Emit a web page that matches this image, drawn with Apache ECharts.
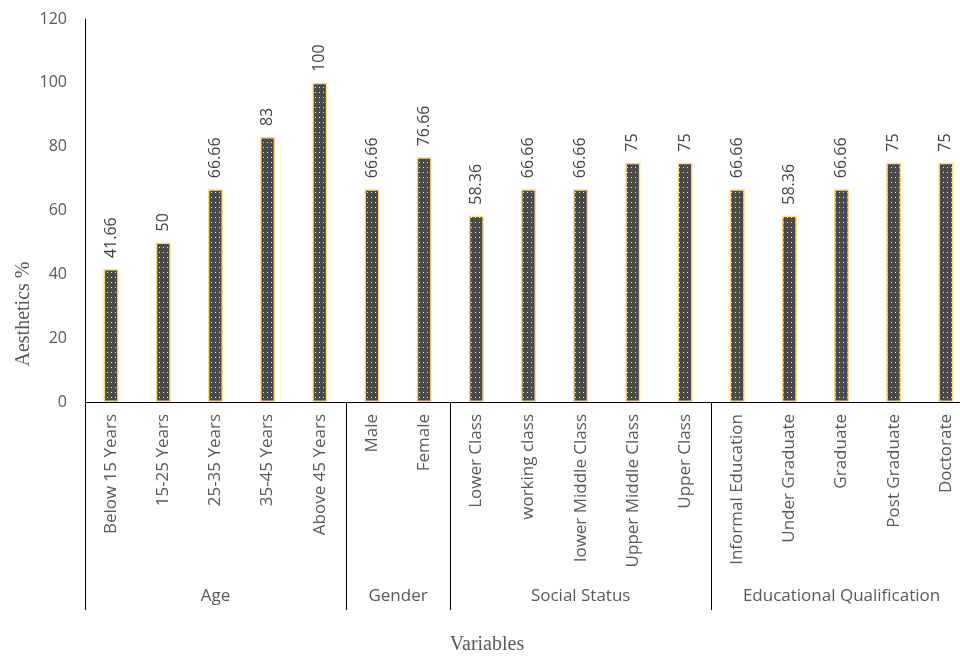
<!DOCTYPE html>
<html>
<head>
<meta charset="utf-8">
<style>
  html, body { margin: 0; padding: 0; background: #fff; }
  #chart { width: 960px; height: 657px; }
</style>
<script src="https://cdn.jsdelivr.net/npm/echarts@6/dist/echarts.min.js"></script>
</head>
<body>
<div id="chart"></div>
<script>
// categories and values
var categories = [
    'Below 15 Years', '15-25 Years', '25-35 Years', '35-45 Years', 'Above 45 Years',
    'Male', 'Female',
    'Lower Class', 'working class', 'lower Middle Class', 'Upper Middle Class', 'Upper Class',
    'Informal Education', 'Under Graduate', 'Graduate', 'Post Graduate', 'Doctorate'
];
var values = [41.66, 50, 66.66, 83, 100, 66.66, 76.66, 58.36, 66.66, 66.66, 75, 75, 66.66, 58.36, 66.66, 75, 75];
var groupNames = ['Age', 'Gender', 'Social Status', 'Educational Qualification'];
var groupSizes = [5, 2, 5, 5];
var yTicks = { min: 0, max: 120, interval: 20 };

var textColor = '#595959';

/**
 * Dotted fill used by the bars.
 * @returns {HTMLCanvasElement}
 */
function makeDotPattern() {
    var cv = document.createElement('canvas');
    cv.width = 8;
    cv.height = 5;
    var ctx = cv.getContext('2d');
    ctx.fillStyle = '#4a4a4a';
    ctx.fillRect(0, 0, 8, 5);
    ctx.fillStyle = '#e6e6e6';
    ctx.fillRect(3, 2, 1, 1);
    ctx.fillRect(7, 2, 1, 1);
    return cv;
}

// second axis works in half-category steps: boundaries and group centres
var halfSteps = [];
for (var i = 0; i <= categories.length * 2; i++) halfSteps.push(String(i));
var boundaries = [0];
var groupCentres = {};
var acc = 0;
for (var g = 0; g < groupSizes.length; g++) {
    groupCentres[acc * 2 + groupSizes[g]] = groupNames[g];
    acc += groupSizes[g];
    boundaries.push(acc * 2);
}

var chart = echarts.init(document.getElementById('chart'));
chart.setOption({
    animation: false,
    grid: { left: 85, top: 19, width: 887, height: 383, outerBoundsMode: 'none', containLabel: false },
    xAxis: [
        {
            type: 'category',
            data: categories,
            axisLine: { lineStyle: { color: '#000', width: 1 } },
            axisTick: { show: false },
            axisLabel: {
                rotate: 90,
                interval: 0,
                margin: 12,
                color: textColor,
                fontFamily: 'Open Sans',
                fontSize: 17
            }
        },
        {
            type: 'category',
            position: 'bottom',
            boundaryGap: false,
            data: halfSteps,
            axisLine: { show: false },
            axisTick: {
                show: true,
                length: 208,
                interval: function (idx) { return boundaries.indexOf(idx) >= 0; },
                lineStyle: { color: '#000', width: 1 }
            },
            axisLabel: {
                margin: 186,
                color: textColor,
                fontFamily: 'Open Sans',
                fontSize: 17,
                interval: function (idx) { return groupCentres[idx] !== undefined; },
                formatter: function (v) { return groupCentres[+v] || ''; }
            }
        }
    ],
    yAxis: {
        type: 'value',
        min: yTicks.min,
        max: yTicks.max,
        interval: yTicks.interval,
        axisLine: { show: true, lineStyle: { color: '#000', width: 1 } },
        axisTick: { show: false },
        splitLine: { show: false },
        axisLabel: { margin: 18, color: textColor, fontFamily: 'Open Sans', fontSize: 16 }
    },
    graphic: [
        {
            type: 'text',
            x: 24, y: 314,
            rotation: Math.PI / 2,
            style: {
                text: 'Aesthetics %',
                fill: textColor,
                font: '20px "Liberation Serif"',
                textAlign: 'center',
                textVerticalAlign: 'middle'
            }
        },
        {
            type: 'text',
            x: 487, y: 645,
            style: {
                text: 'Variables',
                fill: textColor,
                font: '20px "Liberation Serif"',
                textAlign: 'center',
                textVerticalAlign: 'middle'
            }
        }
    ],
    series: [
        {
            type: 'bar',
            xAxisIndex: 0,
            data: values,
            barWidth: 15,
            itemStyle: {
                color: { image: makeDotPattern(), repeat: 'repeat' },
                borderColor: '#ffd97a',
                borderWidth: 1.5
            },
            label: {
                show: true,
                position: 'top',
                rotate: 90,
                distance: 11,
                align: 'left',
                verticalAlign: 'middle',
                color: '#404040',
                fontFamily: 'Open Sans',
                fontSize: 16
            }
        }
    ]
});
</script>
</body>
</html>
